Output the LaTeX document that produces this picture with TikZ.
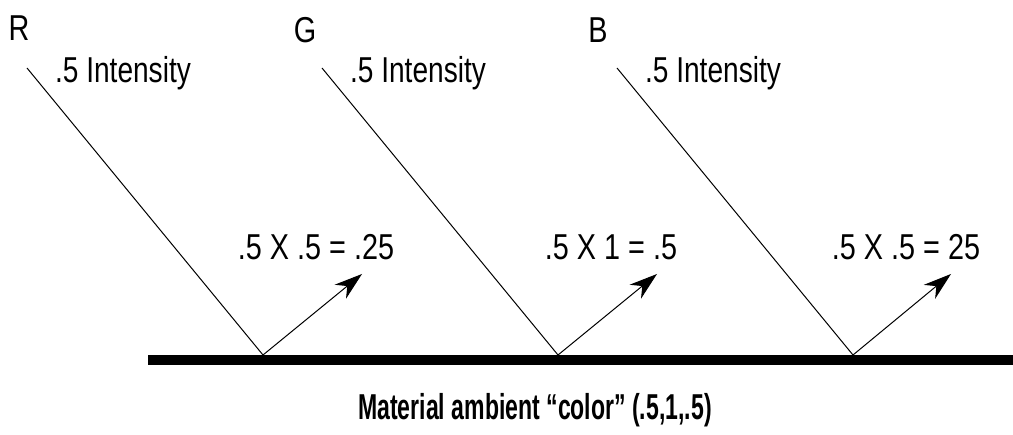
\documentclass[tikz,border=0pt]{standalone}
\usepackage{fontspec}
\newfontfamily\nf{Liberation Sans}
\usetikzlibrary{arrows.meta}
\begin{document}
\begin{tikzpicture}[x=1pt,y=-1pt,
  lbl/.style={inner sep=0pt,font=\nf\fontsize{36}{40}\selectfont},
  ray/.style={line width=1pt},
  refl/.style={line width=1pt,-{Stealth[length=28pt,width=18pt,inset=9pt]}},
  surface/.style={line width=10.5pt}]
\useasboundingbox (0,0) rectangle (1013,435);
% surface
\coordinate (sl) at (148,360);
\coordinate (sr) at (1013,360);
\draw[surface] (sl) -- (sr);
% channel labels
\node[lbl] (R) at (19,28) {\scalebox{0.8}[1]{R}};
\node[lbl] (G) at (305,30) {\scalebox{0.8}[1]{G}};
\node[lbl] (B) at (598,30) {\scalebox{0.8}[1]{B}};
\node[lbl] (iR) at (123,73) {\scalebox{0.78}[1]{.5 Intensity}};
\node[lbl] (iG) at (418,73) {\scalebox{0.78}[1]{.5 Intensity}};
\node[lbl] (iB) at (713,73) {\scalebox{0.78}[1]{.5 Intensity}};
% rays
\coordinate (sR) at (27,68);
\coordinate (sG) at (322,68);
\coordinate (sB) at (617,68);
\coordinate (hR) at (263,355);
\coordinate (hG) at (558,355);
\coordinate (hB) at (853,355);
\coordinate (tR) at (362,274);
\coordinate (tG) at (657,274);
\coordinate (tB) at (951,274);
\draw[ray] (sR) -- (hR);
\draw[ray] (sG) -- (hG);
\draw[ray] (sB) -- (hB);
\draw[refl] (hR) -- (tR);
\draw[refl] (hG) -- (tG);
\draw[refl] (hB) -- (tB);
% products
\node[lbl] (pR) at (316,247) {\scalebox{0.8}[1]{.5 X .5 = .25}};
\node[lbl] (pG) at (611,247) {\scalebox{0.8}[1]{.5 X 1 = .5}};
\node[lbl] (pB) at (906,247) {\scalebox{0.8}[1]{.5 X .5 = 25}};
% material
\node[lbl] (mat) at (535,410) {\scalebox{0.64}[1]{\bfseries Material ambient “color” (.5,1,.5)}};
\end{tikzpicture}
\end{document}
